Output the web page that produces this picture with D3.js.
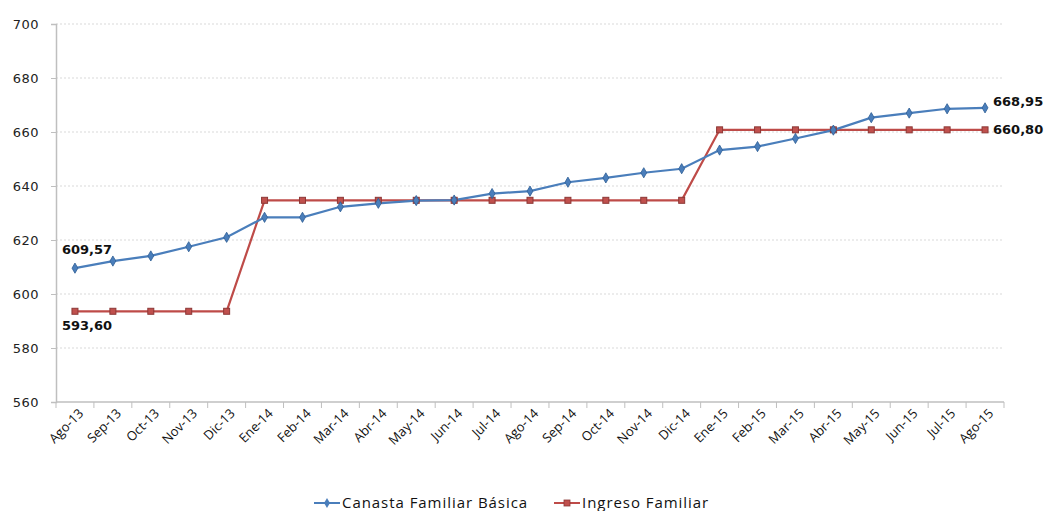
<!DOCTYPE html>
<html>
<head>
<meta charset="utf-8">
<script src="https://cdn.jsdelivr.net/npm/d3@7"></script>
<style>
  body { margin: 0; background: #fff; }
  svg { display: block; font-family: "Open Sans", "DejaVu Sans", sans-serif; }
</style>
</head>
<body>
<svg id="chart" width="1046" height="511"></svg>
<script>
const months = ["Ago-13","Sep-13","Oct-13","Nov-13","Dic-13","Ene-14","Feb-14","Mar-14","Abr-14","May-14","Jun-14","Jul-14","Ago-14","Sep-14","Oct-14","Nov-14","Dic-14","Ene-15","Feb-15","Mar-15","Abr-15","May-15","Jun-15","Jul-15","Ago-15"];
const canasta = [609.57,612.2,614.1,617.5,621.0,628.4,628.4,632.3,633.6,634.6,634.8,637.2,638.1,641.4,643.0,644.9,646.4,653.3,654.6,657.6,660.7,665.3,667.0,668.6,668.95];
const ingreso = [593.60,593.60,593.60,593.60,593.60,634.7,634.7,634.7,634.7,634.7,634.7,634.7,634.7,634.7,634.7,634.7,634.7,660.80,660.80,660.80,660.80,660.80,660.80,660.80,660.80];
const yTicks = [560,580,600,620,640,660,680,700];
const seriesNames = ["Canasta Familiar Básica","Ingreso Familiar"];

const svg = d3.select("#chart");
const plotLeft = 56, plotRight = 1004, plotTop = 24, plotBottom = 402;

const x = d3.scaleBand().domain(months).range([plotLeft, plotRight]);
const y = d3.scaleLinear().domain([560, 700]).range([plotBottom, plotTop]);
const cx = d => x(d) + x.bandwidth() / 2;

const blue = "#4A7EBB", red = "#BE4B48";
const wideFont = "'DejaVu Sans', sans-serif";

// gridlines
svg.append("g").selectAll("line").data(yTicks.slice(1)).join("line")
  .attr("x1", plotLeft).attr("x2", plotRight)
  .attr("y1", d => y(d)).attr("y2", d => y(d))
  .attr("stroke", "#d9d9d9").attr("stroke-dasharray", "2,2").attr("stroke-width", 1);

// y axis
const yAxis = svg.append("g").attr("transform", `translate(${plotLeft},0)`)
  .call(d3.axisLeft(y).tickValues(yTicks).tickSize(5).tickPadding(12).tickFormat(d3.format("d")));
yAxis.attr("font-family", null).attr("font-size", null);
yAxis.select(".domain").attr("stroke", "#bfbfbf").attr("stroke-width", 1.5);
yAxis.selectAll(".tick line").attr("stroke", "#bfbfbf");
yAxis.selectAll("text").style("font-family", wideFont)
  .style("font-size", "13px").attr("letter-spacing", 0.5).attr("fill", "#222");

// x axis with ticks at category boundaries
svg.append("line").attr("x1", plotLeft).attr("x2", plotRight).attr("y1", plotBottom).attr("y2", plotBottom)
  .attr("stroke", "#bfbfbf").attr("stroke-width", 1.5);
const bounds = months.map(m => x(m)).concat([x(months[months.length - 1]) + x.bandwidth()]);
svg.append("g").selectAll("line").data(bounds).join("line")
  .attr("x1", d => d).attr("x2", d => d).attr("y1", plotBottom).attr("y2", plotBottom + 6)
  .attr("stroke", "#bfbfbf").attr("stroke-width", 1);
svg.append("g").selectAll("text").data(months).join("text")
  .attr("transform", d => `translate(${cx(d) + 6},${plotBottom + 9}) rotate(-45)`)
  .attr("text-anchor", "end").attr("dy", "0.35em")
  .style("font-size", "13px").attr("fill", "#111")
  .text(d => d);

// lines
const line = d3.line().x((d, i) => cx(months[i])).y(d => y(d));
svg.append("path").datum(ingreso).attr("d", line).attr("fill", "none")
  .attr("stroke", red).attr("stroke-width", 2.2);
svg.append("path").datum(canasta).attr("d", line).attr("fill", "none")
  .attr("stroke", blue).attr("stroke-width", 2.2);

// markers
svg.append("g").selectAll("rect").data(ingreso).join("rect")
  .attr("x", (d, i) => cx(months[i]) - 3).attr("y", d => y(d) - 3)
  .attr("width", 6).attr("height", 6)
  .attr("fill", "#c0504d").attr("stroke", "#8c3836").attr("stroke-width", 1);
svg.append("g").selectAll("path").data(canasta).join("path")
  .attr("d", d3.symbol(d3.symbolDiamond, 30))
  .attr("transform", (d, i) => `translate(${cx(months[i])},${y(d)})`)
  .attr("fill", blue).attr("stroke", "#2f5e94").attr("stroke-width", 0.8);

// value labels
const fmt = v => v.toFixed(2).replace(".", ",");
const lab = (txt, px, py) => svg.append("text").attr("x", px).attr("y", py)
  .style("font-family", wideFont).style("font-size", "13px").style("font-weight", "bold")
  .attr("fill", "#111").text(txt);
lab(fmt(canasta[0]), cx(months[0]) - 13, y(canasta[0]) - 14);
lab(fmt(ingreso[0]), cx(months[0]) - 13, y(ingreso[0]) + 19);
lab(fmt(canasta[24]), cx(months[24]) + 8, y(canasta[24]) - 2);
lab(fmt(ingreso[24]), cx(months[24]) + 8, y(ingreso[24]) + 4);

// legend
const legend = svg.append("g");
const items = [
  { name: seriesNames[0], color: blue, x0: 314, shape: "diamond" },
  { name: seriesNames[1], color: red, x0: 554, shape: "square" }
];
items.forEach(it => {
  legend.append("line").attr("x1", it.x0).attr("x2", it.x0 + 26)
    .attr("y1", 503).attr("y2", 503).attr("stroke", it.color).attr("stroke-width", 2);
  if (it.shape === "diamond") {
    legend.append("path").attr("d", d3.symbol(d3.symbolDiamond, 30))
      .attr("transform", `translate(${it.x0 + 13},503)`).attr("fill", it.color);
  } else {
    legend.append("rect").attr("x", it.x0 + 10).attr("y", 500).attr("width", 6).attr("height", 6)
      .attr("fill", "#c0504d").attr("stroke", "#8c3836").attr("stroke-width", 0.8);
  }
  legend.append("text").attr("x", it.x0 + 28).attr("y", 508)
    .style("font-size", "15px").attr("fill", "#111").attr("letter-spacing", 0.95).text(it.name);
});
</script>
</body>
</html>
